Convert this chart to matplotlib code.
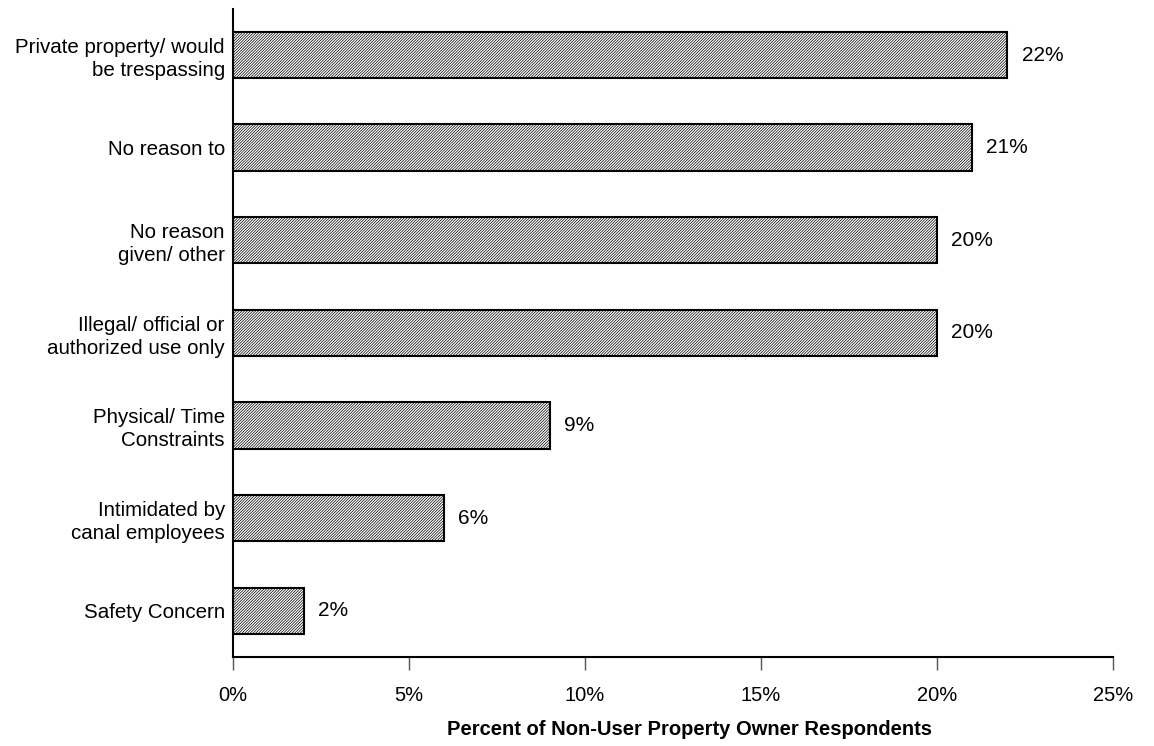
import numpy as np
import matplotlib
matplotlib.use('Agg')
import matplotlib.pyplot as plt

# Data (top to bottom as displayed)
reasons = [
    'Private property/ would\nbe trespassing',
    'No reason to',
    'No reason\ngiven/ other',
    'Illegal/ official or\nauthorized use only',
    'Physical/ Time\nConstraints',
    'Intimidated by\ncanal employees',
    'Safety Concern',
]
percents = [22, 21, 20, 20, 9, 6, 2]
xticks = [0, 5, 10, 15, 20, 25]

plt.rcParams['font.family'] = ['Liberation Sans', 'DejaVu Sans']
plt.rcParams['hatch.linewidth'] = 0.5
plt.rcParams['hatch.color'] = '#a4a4a4'

fig = plt.figure(figsize=(11.54, 7.46), dpi=100)
ax = fig.add_axes([0.202, 0.1193, 0.7625, 0.8690])

y = np.arange(len(reasons))[::-1]
ax.barh(y, percents, height=0.5, color='white', edgecolor='black',
        linewidth=1.5, hatch='////////////')

for yi, p in zip(y, percents):
    ax.text(p + 0.4, yi, f'{p}%', va='center', ha='left', fontsize=15)

ax.set_xlim(0, 25)
ax.set_ylim(-0.5, len(reasons) - 0.5)
ax.set_xticks(xticks)
ax.set_xticklabels([f'{t}%' for t in xticks], fontsize=14.5)
ax.set_yticks(y)
ax.set_yticklabels(reasons, fontsize=14.8, linespacing=1.25)
ax.tick_params(axis='y', length=0, pad=6)
ax.tick_params(axis='x', length=9, width=1, color='#555555', pad=12, direction='out')

for side in ['top', 'right']:
    ax.spines[side].set_visible(False)
ax.spines['left'].set_linewidth(1.5)
ax.spines['bottom'].set_linewidth(1.5)

ax.set_xlabel('Percent of Non-User Property Owner Respondents',
              fontsize=14.5, fontweight='bold')
ax.xaxis.set_label_coords(0.519, -0.097)

fig.savefig('out.png', dpi=100)
